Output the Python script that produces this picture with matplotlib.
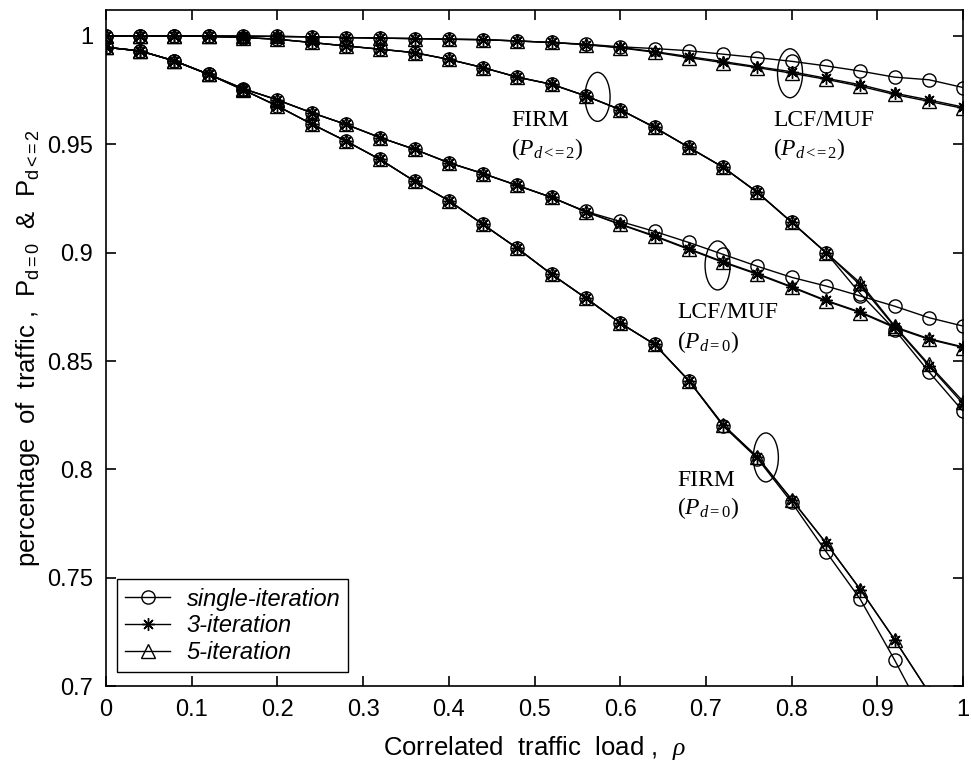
import matplotlib
matplotlib.use("Agg")
import matplotlib.pyplot as plt
from matplotlib.patches import Ellipse
import numpy as np

# correlated traffic load, one sample every 0.04
load = [0.00, 0.04, 0.08, 0.12, 0.16, 0.20, 0.24, 0.28, 0.32, 0.36, 0.40, 0.44, 0.48,
        0.52, 0.56, 0.60, 0.64, 0.68, 0.72, 0.76, 0.80, 0.84, 0.88, 0.92, 0.96, 1.00]

# LCF/MUF, P(d<=2)
lcfD2Single = [1.0000, 1.0000, 1.0000, 1.0000, 0.9999, 0.9998, 0.9996, 0.9993, 0.9990, 0.9988, 0.9985, 0.9983, 0.9977,
               0.9970, 0.9962, 0.9950, 0.9942, 0.9932, 0.9916, 0.9900, 0.9883, 0.9862, 0.9838, 0.9810, 0.9798, 0.9762]
lcfD2Iter3 = [1.0000, 1.0000, 1.0000, 1.0000, 0.9999, 0.9998, 0.9996, 0.9993, 0.9990, 0.9988, 0.9985, 0.9983, 0.9977,
              0.9970, 0.9960, 0.9947, 0.9928, 0.9905, 0.9882, 0.9858, 0.9835, 0.9805, 0.9775, 0.9736, 0.9705, 0.9672]
lcfD2Iter5 = [1.0000, 1.0000, 1.0000, 1.0000, 0.9999, 0.9998, 0.9996, 0.9993, 0.9990, 0.9988, 0.9985, 0.9983, 0.9977,
              0.9970, 0.9960, 0.9945, 0.9925, 0.9900, 0.9877, 0.9854, 0.9828, 0.9800, 0.9768, 0.9730, 0.9698, 0.9666]

# FIRM, P(d<=2)
firmD2Single = [1.0000, 1.0000, 1.0000, 0.9998, 0.9993, 0.9985, 0.9970, 0.9954, 0.9939, 0.9923, 0.9892, 0.9854, 0.9810,
                0.9777, 0.9723, 0.9660, 0.9578, 0.9486, 0.9394, 0.9278, 0.9140, 0.9000, 0.8810, 0.8645, 0.8450, 0.8267]
firmD2Iter3 = [1.0000, 1.0000, 1.0000, 0.9998, 0.9993, 0.9985, 0.9970, 0.9954, 0.9939, 0.9923, 0.9892, 0.9854, 0.9810,
               0.9777, 0.9723, 0.9660, 0.9578, 0.9486, 0.9394, 0.9278, 0.9140, 0.9000, 0.8850, 0.8658, 0.8478, 0.8302]
firmD2Iter5 = [1.0000, 1.0000, 1.0000, 0.9998, 0.9993, 0.9985, 0.9970, 0.9954, 0.9939, 0.9923, 0.9892, 0.9854, 0.9810,
               0.9777, 0.9723, 0.9660, 0.9578, 0.9486, 0.9394, 0.9278, 0.9140, 0.9000, 0.8860, 0.8662, 0.8484, 0.8313]

# LCF/MUF, P(d=0)
lcfD0Single = [0.9948, 0.9931, 0.9885, 0.9823, 0.9757, 0.9705, 0.9646, 0.9592, 0.9531, 0.9477, 0.9415, 0.9365, 0.9310,
               0.9255, 0.9190, 0.9144, 0.9098, 0.9047, 0.8992, 0.8937, 0.8886, 0.8846, 0.8800, 0.8753, 0.8700, 0.8661]
lcfD0Iter3 = [0.9948, 0.9931, 0.9885, 0.9823, 0.9757, 0.9705, 0.9646, 0.9592, 0.9531, 0.9477, 0.9415, 0.9365, 0.9310,
              0.9255, 0.9188, 0.9132, 0.9078, 0.9018, 0.8958, 0.8903, 0.8843, 0.8780, 0.8726, 0.8658, 0.8603, 0.8565]
lcfD0Iter5 = [0.9948, 0.9931, 0.9885, 0.9823, 0.9757, 0.9705, 0.9646, 0.9592, 0.9531, 0.9477, 0.9415, 0.9365, 0.9310,
              0.9255, 0.9188, 0.9130, 0.9075, 0.9015, 0.8955, 0.8900, 0.8840, 0.8777, 0.8723, 0.8654, 0.8600, 0.8562]

# FIRM, P(d=0)
firmD0Single = [0.9948, 0.9931, 0.9885, 0.9823, 0.9752, 0.9677, 0.9594, 0.9515, 0.9430, 0.9330, 0.9240, 0.9130, 0.9020,
                0.8900, 0.8790, 0.8675, 0.8577, 0.8409, 0.8200, 0.8050, 0.7847, 0.7620, 0.7400, 0.7120, 0.6820, 0.6520]
firmD0Iter3 = [0.9948, 0.9931, 0.9885, 0.9823, 0.9752, 0.9677, 0.9594, 0.9515, 0.9430, 0.9330, 0.9240, 0.9130, 0.9020,
               0.8900, 0.8790, 0.8675, 0.8577, 0.8409, 0.8205, 0.8056, 0.7860, 0.7660, 0.7445, 0.7214, 0.6970, 0.6720]
firmD0Iter5 = [0.9948, 0.9931, 0.9885, 0.9823, 0.9752, 0.9677, 0.9594, 0.9515, 0.9430, 0.9330, 0.9240, 0.9130, 0.9020,
               0.8900, 0.8790, 0.8675, 0.8577, 0.8409, 0.8205, 0.8056, 0.7860, 0.7660, 0.7445, 0.7214, 0.6970, 0.6720]

legendLabels = ["single-iteration", "3-iteration", "5-iteration"]
xTicks = [0, 0.1, 0.2, 0.3, 0.4, 0.5, 0.6, 0.7, 0.8, 0.9, 1]
xTickLabels = ["0", "0.1", "0.2", "0.3", "0.4", "0.5", "0.6", "0.7", "0.8", "0.9", "1"]
yTicks = [0.7, 0.75, 0.8, 0.85, 0.9, 0.95, 1.0]
yTickLabels = ["0.7", "0.75", "0.8", "0.85", "0.9", "0.95", "1"]

plt.rcParams["font.family"] = "Liberation Sans"
plt.rcParams["mathtext.fontset"] = "custom"
plt.rcParams["mathtext.rm"] = "Liberation Serif"
plt.rcParams["mathtext.it"] = "Liberation Serif:italic"

fig = plt.figure(figsize=(9.71, 7.62), dpi=100)
ax = fig.add_axes([0.109, 0.0997, 0.883, 0.8872])

asterisk = (8, 2, 0)
groups = [
    (lcfD2Single, lcfD2Iter3, lcfD2Iter5),
    (firmD2Single, firmD2Iter3, firmD2Iter5),
    (lcfD0Single, lcfD0Iter3, lcfD0Iter5),
    (firmD0Single, firmD0Iter3, firmD0Iter5),
]
for n, (single, iter3, iter5) in enumerate(groups):
    ax.plot(load, single, color="k", lw=1.0, marker="o", ms=9.5, mfc="none", mew=1.0,
            label=legendLabels[0] if n == 0 else None)
    ax.plot(load, iter3, color="k", lw=1.0, marker=asterisk, ms=9, mew=1.0,
            label=legendLabels[1] if n == 0 else None)
    ax.plot(load, iter5, color="k", lw=1.0, marker="^", ms=9.5, mfc="none", mew=1.0,
            label=legendLabels[2] if n == 0 else None)

ax.set_xlim(0, 1)
ax.set_ylim(0.7, 1.012)
ax.set_xticks(xTicks)
ax.set_xticklabels(xTickLabels)
ax.set_yticks(yTicks)
ax.set_yticklabels(yTickLabels)
ax.tick_params(direction="in", top=True, right=True, length=7, width=1.2, labelsize=17, pad=9)
for spine in ax.spines.values():
    spine.set_linewidth(1.2)

ax.set_xlabel(r"Correlated  traffic  load ,  $\rho$", fontsize=18.5, labelpad=10)
ax.set_ylabel(r"percentage  of  traffic ,  $\mathregular{P_{d{=}0}}$  &  $\mathregular{P_{d{<}\!{=}2}}$",
              fontsize=18.5, labelpad=4)

# ellipses marking each group of curves
for cx, cy in [(0.5735, 0.9719), (0.798, 0.9828), (0.7135, 0.8941), (0.7698, 0.8055)]:
    ax.add_patch(Ellipse((cx, cy), 0.0292, 0.0226, fill=False, ec="k", lw=1.0, zorder=5))

# group names
notes = [
    (0.4726, 0.9608, 0.9477, "FIRM", r"($P_{d{<}\!\!{=}2}$)"),
    (0.778, 0.9608, 0.9477, "LCF/MUF", r"($P_{d{<}\!\!{=}2}$)"),
    (0.6663, 0.8722, 0.8586, "LCF/MUF", r"($P_{d{=}0}$)"),
    (0.6663, 0.7949, 0.7822, "FIRM", r"($P_{d{=}0}$)"),
]
for tx, ty1, ty2, name, sub in notes:
    ax.text(tx, ty1, name, family="Liberation Serif", fontsize=17, va="center", ha="left")
    ax.text(tx, ty2, sub, family="Liberation Serif", fontsize=17, va="center", ha="left")

leg = ax.legend(loc="lower left", bbox_to_anchor=(0.0128, 0.0207), fancybox=False,
                edgecolor="k", framealpha=1, prop={"style": "italic", "size": 17},
                handlelength=1.9, handletextpad=0.7, borderpad=0.35, labelspacing=0.15,
                borderaxespad=0)
leg.get_frame().set_linewidth(1.0)

fig.savefig("out.png", dpi=100)
